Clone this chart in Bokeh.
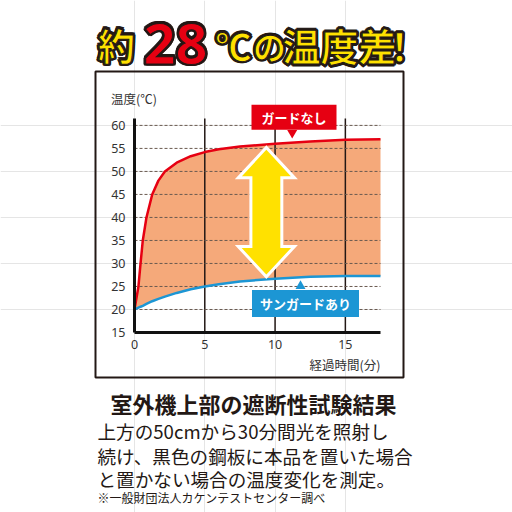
from bokeh.plotting import figure
from bokeh.models import Range1d, FixedTicker, Label, BoxAnnotation, LinearAxis
from bokeh.embed import file_html
from bokeh.resources import INLINE
import math

# ---------------- data ----------------
time_min = [0, 0.28, 0.43, 0.59, 0.85, 1.26, 1.7, 2.16, 3, 4, 5, 6, 7.5, 10, 12.5, 15, 17.5]
no_guard = [20, 25, 30, 35, 40, 45, 48, 50, 51.9, 53.3, 54.2, 54.8, 55.4, 56.0, 56.5, 56.9, 57.0]
sun_guard = [20, 20.4, 20.6, 20.8, 21.2, 21.8, 22.3, 22.8, 23.6, 24.4, 25.0, 25.5, 26.1, 26.7, 27.1, 27.3, 27.3]
x_ticks = [0, 5, 10, 15]
y_ticks = [15, 20, 25, 30, 35, 40, 45, 50, 55, 60]
series_names = ["ガードなし", "サンガードあり"]

# ---------------- layout ----------------
W = H = 512
X_LIM = (0, 17.5)          # plotted x extent
Y_LIM = (15, 61.5)         # plotted y extent
PLOT_PX = (134, 380, 118, 332)   # left, right, top, bottom of the chart area on the canvas
CJK = "Noto Sans CJK JP"
INK = "#231815"
YELLOW = "#FFE100"
RED = "#E60012"
BLUE = "#1C96D4"
FILL = "#F5A97A"

kx = (PLOT_PX[1] - PLOT_PX[0]) / (X_LIM[1] - X_LIM[0])
ky = (PLOT_PX[3] - PLOT_PX[2]) / (Y_LIM[1] - Y_LIM[0])
x_start = X_LIM[0] - PLOT_PX[0] / kx
y_start = Y_LIM[0] - (H - PLOT_PX[3]) / ky


def dx(px):
    return x_start + px / kx


def dy(py):
    return y_start + (H - py) / ky


p = figure(width=W, height=H,
           x_range=Range1d(x_start, x_start + W / kx),
           y_range=Range1d(y_start, y_start + H / ky),
           output_backend="svg", toolbar_location=None,
           x_axis_location=None, y_axis_location=None,
           min_border=0, min_border_left=0, min_border_right=0,
           min_border_top=0, min_border_bottom=0)
p.outline_line_color = None
p.background_fill_color = "white"
p.border_fill_color = "white"

# fill between curves
p.varea(x=time_min, y1=sun_guard, y2=no_guard, fill_color=FILL)

# grid lines from the tick lists
gx = [t for t in x_ticks if t > X_LIM[0]]
p.segment(x0=gx, y0=[Y_LIM[0]] * len(gx), x1=gx, y1=[Y_LIM[1]] * len(gx),
          line_color=INK, line_width=1.5)
gy = [t for t in y_ticks if t > Y_LIM[0]]
p.segment(x0=[X_LIM[0]] * len(gy), y0=gy, x1=[X_LIM[1]] * len(gy), y1=gy,
          line_color="#6a5a50", line_width=1, line_dash="3 2")

# curves
p.line(time_min, no_guard, line_color=RED, line_width=2.5)
p.line(time_min, sun_guard, line_color=BLUE, line_width=2.5)

# axes fixed at the chart's origin
yax = LinearAxis(fixed_location=X_LIM[0], bounds=Y_LIM, ticker=FixedTicker(ticks=y_ticks))
xax = LinearAxis(fixed_location=Y_LIM[0], bounds=X_LIM, ticker=FixedTicker(ticks=x_ticks))
for ax in (xax, yax):
    ax.axis_line_color = "#111111"
    ax.axis_line_width = 3
    ax.major_tick_line_color = None
    ax.minor_tick_line_color = None
    ax.major_tick_in = 0
    ax.major_tick_out = 0
    ax.major_label_text_font = "Noto Sans"
    ax.major_label_text_font_size = "12.5px"
    ax.major_label_text_color = "#333333"
xax.major_label_standoff = 7
yax.major_label_standoff = 9
p.add_layout(yax, "left")
p.add_layout(xax, "below")

# double arrow (annotation geometry)
AX, A_TOP, A_BOT = 9.38, 55.2, 27.1
HEAD_HALF, SHAFT_HALF, HEAD_H = 2.0, 1.1, 6.6
axs = [AX, AX + HEAD_HALF, AX + SHAFT_HALF, AX + SHAFT_HALF, AX + HEAD_HALF, AX,
       AX - HEAD_HALF, AX - SHAFT_HALF, AX - SHAFT_HALF, AX - HEAD_HALF]
ays = [A_TOP, A_TOP - HEAD_H, A_TOP - HEAD_H, A_BOT + HEAD_H, A_BOT + HEAD_H, A_BOT,
       A_BOT + HEAD_H, A_BOT + HEAD_H, A_TOP - HEAD_H, A_TOP - HEAD_H]
p.patch(axs, ays, fill_color=YELLOW, line_color="white", line_width=3, line_join="miter")

# callout pointers
p.scatter([dx(291.7)], [dy(132.3)], marker="inverted_triangle", size=10, fill_color=RED, line_color=None)
p.scatter([dx(300)], [dy(285.5)], marker="triangle", size=10, fill_color=BLUE, line_color=None)


def clabel(text, x, y, font=CJK, **kw):
    """label positioned in canvas pixels (top-left origin)"""
    lab = Label(x=x, y=y, x_units="canvas", y_units="canvas", text=text, text_font=font, **kw)
    p.add_layout(lab)
    return lab


# callout boxes
clabel(series_names[0], 293.5, 116.7, text_align="center", text_baseline="middle",
       text_font_style="bold", text_font_size="13px", text_color="white",
       background_fill_color=RED, padding=(10, 3))
clabel(series_names[1], 305, 303, text_align="center", text_baseline="middle",
       text_font_style="bold", text_font_size="13px", text_color="white",
       background_fill_color=BLUE, padding=(8, 4))

# frame box
p.add_layout(BoxAnnotation(left=95, right=403, top=71, bottom=377,
                           left_units="canvas", right_units="canvas",
                           top_units="canvas", bottom_units="canvas",
                           fill_alpha=0, line_color=INK, line_alpha=1, line_width=2))

# axis titles
clabel("温度(℃)", 110.5, 98, text_align="left", text_baseline="middle",
       text_font_size="12.5px", text_color="#333333")
clabel("経過時間(分)", 309, 364, text_align="left", text_baseline="middle",
       text_font_size="12.5px", text_color="#333333")


# title (outlined)
def title_piece(text, cx, cy, size, color, font=CJK):
    for k in range(8):
        a = 2 * math.pi * k / 8
        clabel(text, cx, cy, font=font, x_offset=1.7 * math.cos(a), y_offset=1.7 * math.sin(a),
               text_align="center", text_baseline="middle", text_font_style="bold",
               text_font_size=size, text_color=INK, text_outline_color=INK)
    clabel(text, cx, cy, font=font, text_align="center", text_baseline="middle",
           text_font_style="bold", text_font_size=size,
           text_color=color, text_outline_color=INK)


title_piece("約", 116, 44, "37px", YELLOW)
title_piece("28", 175, 43, "56px", RED, font="Noto Sans")
title_piece("℃", 233, 44, "36px", YELLOW)
title_piece("の", 269, 45, "33px", YELLOW)
title_piece("温度差", 339, 44, "38px", YELLOW)
title_piece("！", 399, 44, "38px", YELLOW)

# caption
clabel("室外機上部の遮断性試験結果", 253, 402, text_align="center", text_baseline="middle",
       text_font_style="bold", text_font_size="22px", text_color=INK)
body = ["上方の50cmから30分間光を照射し",
        "続け、黒色の鋼板に本品を置いた場合",
        "と置かない場合の温度変化を測定。"]
for line, cy in zip(body, [430, 455, 478]):
    clabel(line, 97, cy, text_align="left", text_baseline="middle",
           text_font_size="18.6px", text_color=INK)
clabel("※一般財団法人カケンテストセンター調べ", 97, 497, text_align="left",
       text_baseline="middle", text_font_size="12px", text_color=INK)

open("out.html", "w").write(file_html(p, INLINE))
